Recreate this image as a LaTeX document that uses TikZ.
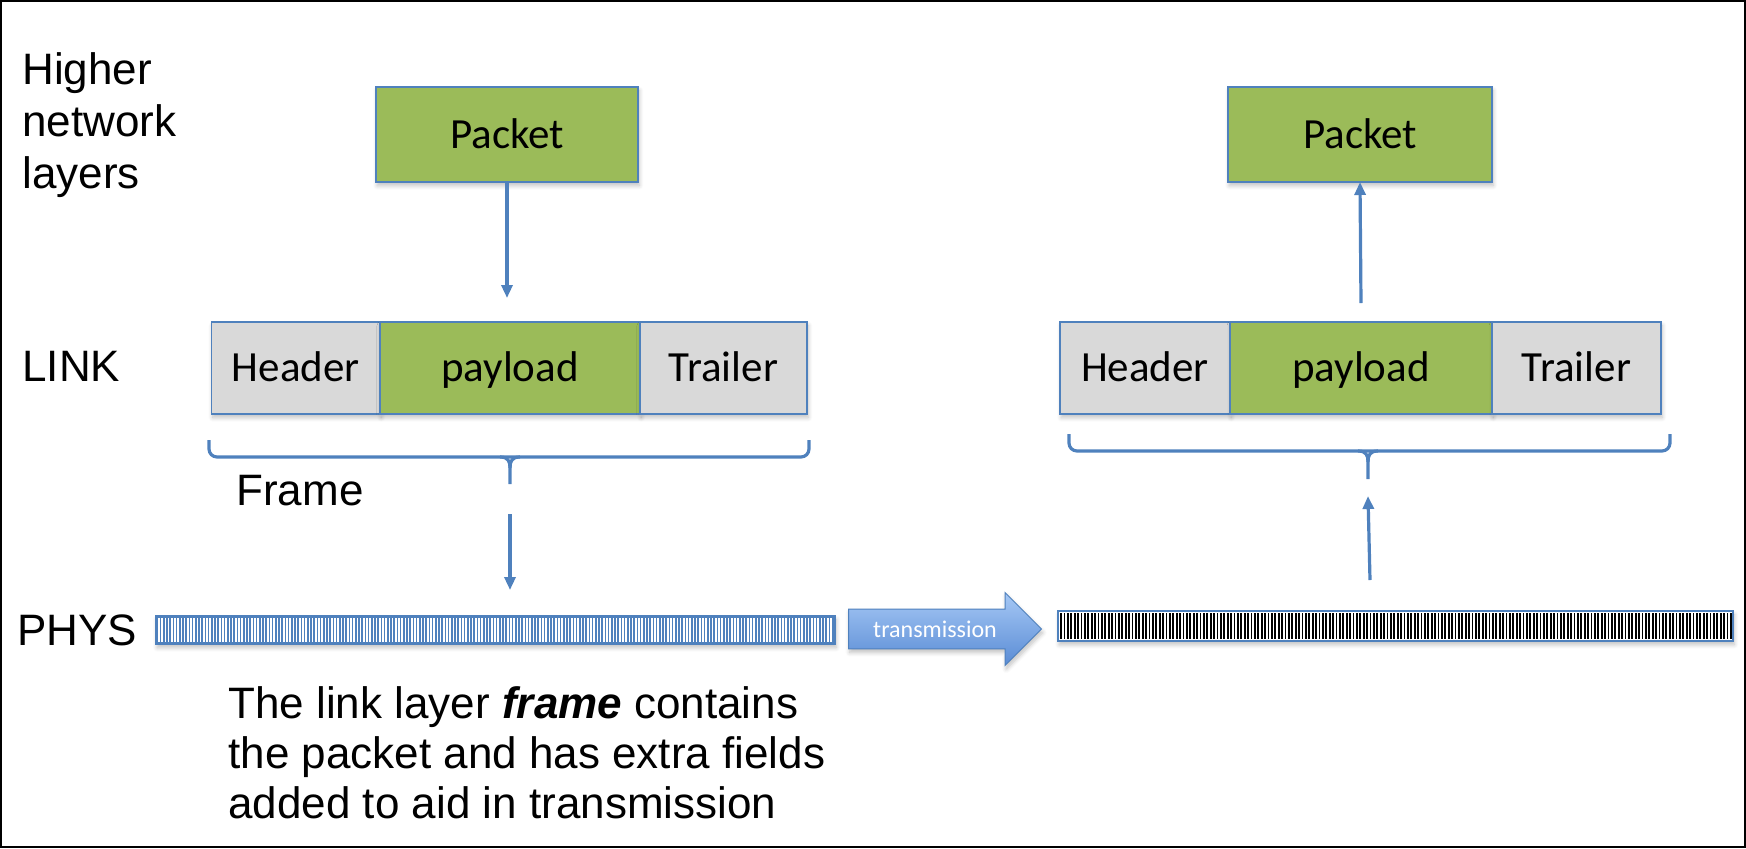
\documentclass[tikz,border=0pt]{standalone}
\usepackage{fontspec}
\setmainfont{Liberation Sans}
\newfontfamily\calib{Carlito}
\usetikzlibrary{positioning,calc,shapes.arrows,arrows.meta,shadows.blur}
\definecolor{pktgreen}{HTML}{9BBB59}
\definecolor{hdrgray}{HTML}{D9D9D9}
\definecolor{edgeblue}{HTML}{4F81BD}
\definecolor{arrtop}{HTML}{A6C8F5}
\definecolor{arrbot}{HTML}{5A8CD5}
\tikzstyle{fld}=[rectangle, draw=edgeblue, line width=0.9pt, inner sep=0pt, outer sep=0pt, minimum height=46pt, text height=17pt, text depth=3.2pt, font=\calib\fontsize{21.5}{24}\selectfont, blur shadow={shadow xshift=0.6pt, shadow yshift=-1.8pt, shadow blur steps=6, shadow opacity=25}]
\tikzstyle{hdr}=[fld, fill=hdrgray]
\tikzstyle{pay}=[fld, fill=pktgreen]
\tikzstyle{flow}=[draw=edgeblue, line width=1.6pt, -{Triangle[width=5.5pt,length=6.5pt]}]
\tikzstyle{brc}=[draw=edgeblue, line width=1.6pt]
\tikzstyle{lbl}=[inner sep=0pt, font=\fontsize{22}{26}\selectfont]
\tikzstyle{bar}=[rectangle, draw=edgeblue, line width=0.8pt, inner sep=0pt, blur shadow={shadow xshift=0.6pt, shadow yshift=-1.8pt, shadow blur steps=6, shadow opacity=25}]

\begin{document}
\begin{tikzpicture}[x=0.5pt,y=-0.5pt]
	\useasboundingbox (0,0) rectangle (1746,848);
	\draw[line width=1pt] (1,1) rectangle (1745,847);
	
	\node[lbl, anchor=north west, align=left] (higher) at (22,52) {Higher\\network\\layers};
	\node[lbl, anchor=base west] (link) at (22,381) {LINK};
	\node[lbl, anchor=base west] (phys) at (17,645) {PHYS};
	
	% sending side
	\node[pay, minimum width=131pt, minimum height=47.5pt] (pktL) at (507,134.5) {Packet};
	\node[hdr, minimum width=84.25pt] (hdrL) at (295.75,368) {Header};
	\node[pay, minimum width=130pt, right=0pt of hdrL] (payL) {payload};
	\node[hdr, minimum width=83.5pt, right=0pt of payL] (trlL) {Trailer};
	
	\draw[brc, rounded corners=4pt] (209,440) |- (510,457) -| (809,440);
	\draw[brc] (500,457) .. controls (508,457) and (510,461) .. (510,468) -- (510,484);
	\draw[brc] (520,457) .. controls (512,457) and (510,461) .. (510,468);
	\node[lbl, anchor=base west] (frm) at (236,505) {Frame};
	
	\coordinate (inL) at (507,298);
	\coordinate (fbL) at (510,514);
	\coordinate (phL) at (510,590);
	\draw[flow] (pktL.south) -- (inL);
	\draw[flow] (fbL) -- (phL);
	
	\node[bar, fill=edgeblue, minimum width=339.5pt, minimum height=14pt] (barL) at (495.5,630) {};
	\foreach \x in {159,162.2,...,833}
		\draw[white, line width=0.8pt] (\x,618) -- (\x,642);
	
	\node[single arrow, draw=edgeblue, line width=0.5pt, top color=arrtop, bottom color=arrbot,
		anchor=tail, minimum height=96.5pt, minimum width=36pt, single arrow head extend=8.25pt,
		inner ysep=5.5pt, text height=8.4pt, text depth=0pt, text=white,
		font=\calib\fontsize{12}{14}\selectfont,
		blur shadow={shadow xshift=0.6pt, shadow yshift=-1.8pt, shadow blur steps=6, shadow opacity=25}] (tx) at (848,629) {transmission};
	
	% receiving side
	\node[bar, fill=white, minimum width=337.5pt, minimum height=15pt] (barR) at (1395.5,626) {};
	\foreach \x in {1061,1064.4,...,1731}
		\draw[black, line width=0.9pt] (\x,613) -- (\x,639);
	
	\node[hdr, minimum width=85pt] (hdrR) at (1145,368) {Header};
	\node[pay, minimum width=131pt, right=0pt of hdrR] (payR) {payload};
	\node[hdr, minimum width=84.5pt, right=0pt of payR] (trlR) {Trailer};
	\node[pay, minimum width=132pt, minimum height=47.5pt] (pktR) at (1360,134.5) {Packet};
	
	\draw[brc, rounded corners=4pt] (1069,434) |- (1368,451) -| (1670,434);
	\draw[brc] (1358,451) .. controls (1366,451) and (1368,455) .. (1368,462) -- (1368,479);
	\draw[brc] (1378,451) .. controls (1370,451) and (1368,455) .. (1368,462);
	
	\coordinate (phR) at (1370,580);
	\coordinate (fbR) at (1368,496);
	\coordinate (outR) at (1361,303);
	\draw[flow] (phR) -- (fbR);
	\draw[flow] (outR) -- (pktR.south);
	
	\node[lbl, anchor=north west, align=left, font=\fontsize{22}{25}\selectfont] (note) at (228,686) {The link layer \textbf{\textit{frame}} contains\\the packet and has extra fields\\added to aid in transmission};
\end{tikzpicture}
\end{document}
